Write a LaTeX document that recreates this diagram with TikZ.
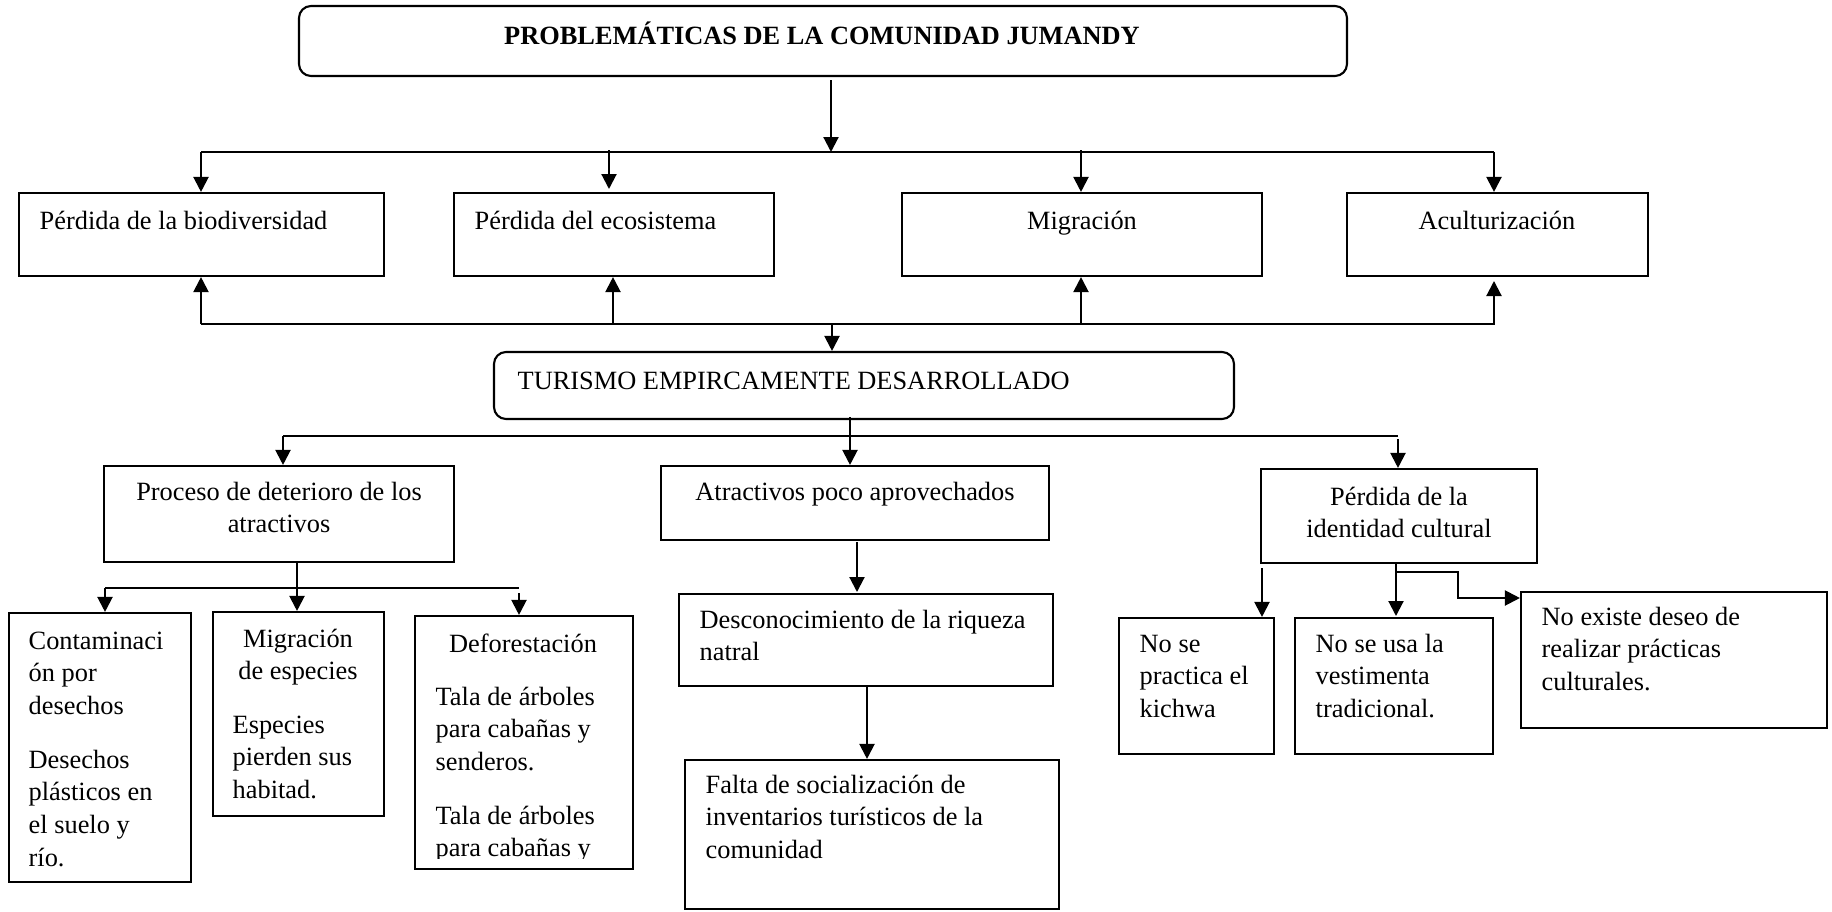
\documentclass[tikz,border=0pt]{standalone}
\usepackage{fontspec}
\setmainfont{Liberation Serif}
\usetikzlibrary{arrows.meta,fit}
\newcommand{\txtl}[1]{\begin{tabular}[t]{@{}l@{}}#1\end{tabular}}
\newcommand{\txtc}[1]{\begin{tabular}[t]{@{}c@{}}#1\end{tabular}}

\begin{document}
\begin{tikzpicture}
	\tikzset{box/.style = {draw, line width=.6pt, inner sep=0pt}}
	\tikzset{rbox/.style = {box, rounded corners=1.2mm}}
	\tikzset{txt/.style = {inner sep=0pt, anchor=base west, font=\fontsize{7.5}{9.3}\selectfont}}
	\tikzset{ctxt/.style = {txt, anchor=base}}
	\tikzset{line/.style = {line width=.6pt}}
	\tikzset{edge/.style = {line, ->, > = {Triangle[width=1.5mm,length=1.5mm]}}}
	\useasboundingbox (0,0) rectangle (18.32,9.11);
	% boxes
	\node[rbox, fit={(2.99,9.05) (13.47,8.35)}] (prob) {};
	\node[box, fit={(0.19,7.18) (3.84,6.35)}] (perdbio) {};
	\node[box, fit={(4.54,7.18) (7.74,6.35)}] (perdeco) {};
	\node[box, fit={(9.02,7.18) (12.62,6.35)}] (migr) {};
	\node[box, fit={(13.47,7.18) (16.48,6.35)}] (acult) {};
	\node[rbox, fit={(4.94,5.59) (12.34,4.92)}] (turismo) {};
	\node[box, fit={(1.04,4.45) (4.54,3.49)}] (proceso) {};
	\node[box, fit={(6.61,4.45) (10.49,3.71)}] (atrac) {};
	\node[box, fit={(12.61,4.42) (15.37,3.48)}] (ident) {};
	\node[box, fit={(0.09,2.98) (1.91,0.29)}] (contam) {};
	\node[box, fit={(2.13,2.99) (3.84,0.95)}] (migresp) {};
	\node[box, fit={(4.15,2.95) (6.33,0.42)}] (defor) {};
	\node[box, fit={(6.79,3.17) (10.53,2.25)}] (descon) {};
	\node[box, fit={(6.85,1.51) (10.59,0.02)}] (falta) {};
	\node[box, fit={(11.19,2.93) (12.74,1.57)}] (kichwa) {};
	\node[box, fit={(12.95,2.93) (14.93,1.57)}] (vest) {};
	\node[box, fit={(15.21,3.19) (18.27,1.83)}] (deseo) {};
	% texts
	\node[ctxt] (probt) at (8.22,8.67) {\bfseries PROBLEMÁTICAS DE LA COMUNIDAD JUMANDY};
	\node[txt] (perdbiot) at (0.39,6.82) {Pérdida de la biodiversidad};
	\node[txt] (perdecot) at (4.74,6.82) {Pérdida del ecosistema};
	\node[ctxt] (migrt) at (10.82,6.82) {Migración};
	\node[ctxt] (acultt) at (14.97,6.82) {Aculturización};
	\node[txt] (turismot) at (5.17,5.22) {TURISMO EMPIRCAMENTE DESARROLLADO};
	\node[ctxt] (procesot) at (2.79,4.11) {\txtc{Proceso de deterioro de los\\atractivos}};
	\node[ctxt] (atract) at (8.55,4.11) {Atractivos poco aprovechados};
	\node[ctxt] (identt) at (13.99,4.06) {\txtc{Pérdida de la\\identidad cultural}};
	\node[txt] (contamt) at (0.28,2.62) {\txtl{Contaminaci\\ón por\\desechos\\[6pt]Desechos\\plásticos en\\el suelo y\\río.}};
	\node[ctxt] (migrespt) at (2.98,2.64) {\txtc{Migración\\de especies}};
	\node[txt] (migrespb) at (2.32,1.78) {\txtl{Especies\\pierden sus\\habitad.}};
	\node[ctxt] (defort) at (5.23,2.59) {Deforestación};
	\begin{scope}
		\clip (4.2,0.525) rectangle (6.3,2.3);
		\node[txt] (deforb) at (4.35,2.06) {\txtl{Tala de árboles\\para cabañas y\\senderos.\\[6pt]Tala de árboles\\para cabañas y}};
	\end{scope}
	\node[txt] (descont) at (6.99,2.83) {\txtl{Desconocimiento de la riqueza\\natral}};
	\node[txt] (faltat) at (7.05,1.18) {\txtl{Falta de socialización de\\inventarios turísticos de la\\comunidad}};
	\node[txt] (kichwat) at (11.39,2.59) {\txtl{No se\\practica el\\kichwa}};
	\node[txt] (vestt) at (13.15,2.59) {\txtl{No se usa la\\vestimenta\\tradicional.}};
	\node[txt] (deseot) at (15.41,2.86) {\txtl{No existe deseo de\\realizar prácticas\\culturales.}};
	% buses
	\coordinate (bus1l) at (2.01,7.59);
	\coordinate (bus1r) at (14.94,7.59);
	\coordinate (bus2l) at (2.01,5.87);
	\coordinate (bus2r) at (14.95,5.87);
	\coordinate (bus3l) at (2.83,4.75);
	\coordinate (bus3r) at (13.98,4.75);
	\coordinate (bus4l) at (1.05,3.23);
	\coordinate (bus4r) at (5.19,3.23);
	\draw[line] (bus1l) -- (bus1r);
	\draw[line] (bus2l) -- (bus2r);
	\draw[line] (bus3l) -- (bus3r);
	\draw[line] (bus4l) -- (bus4r);
	% connectors
	\draw[edge] (8.31,8.31) -- (8.31,8.31 |- bus1l);
	\draw[edge] (bus1l) -- (bus1l |- perdbio.north);
	\draw[edge] (6.09,7.61) -- (6.09,7.22);
	\draw[edge] (10.81,7.61) -- (10.81,7.61 |- migr.north);
	\draw[edge] (bus1r) -- (bus1r |- acult.north);
	\draw[edge] (bus2l) -- (bus2l |- perdbio.south);
	\draw[edge] (6.13,5.87) -- (6.13,5.87 |- perdeco.south);
	\draw[edge] (10.81,5.87) -- (10.81,5.87 |- migr.south);
	\draw[edge] (14.94,5.87) -- (14.94,6.30);
	\draw[edge] (8.32,5.87) -- (8.32,5.87 |- turismo.north);
	\draw[edge] (8.50,4.94) -- (8.50,4.94 |- atrac.north);
	\draw[edge] (bus3l) -- (bus3l |- proceso.north);
	\draw[edge] (13.98,4.72) -- (13.98,4.72 |- ident.north);
	\draw[edge] (8.57,3.69) -- (8.57,3.19);
	\draw[edge] (8.67,2.25) -- (8.67,2.25 |- falta.north);
	\draw[edge] (2.97,3.49) -- (2.97,3.49 |- migresp.north);
	\draw[edge] (bus4l) -- (bus4l |- contam.north);
	\draw[edge] (5.19,3.18) -- (5.19,3.18 |- defor.north);
	\draw[edge] (12.62,3.43) -- (12.62,3.43 |- kichwa.north);
	\draw[edge] (13.96,3.48) -- (13.96,2.95);
	\draw[edge] (13.96,3.39) -- (14.58,3.39) -- (14.58,3.13) -- (14.58,3.13 -| deseo.west);
\end{tikzpicture}
\end{document}
